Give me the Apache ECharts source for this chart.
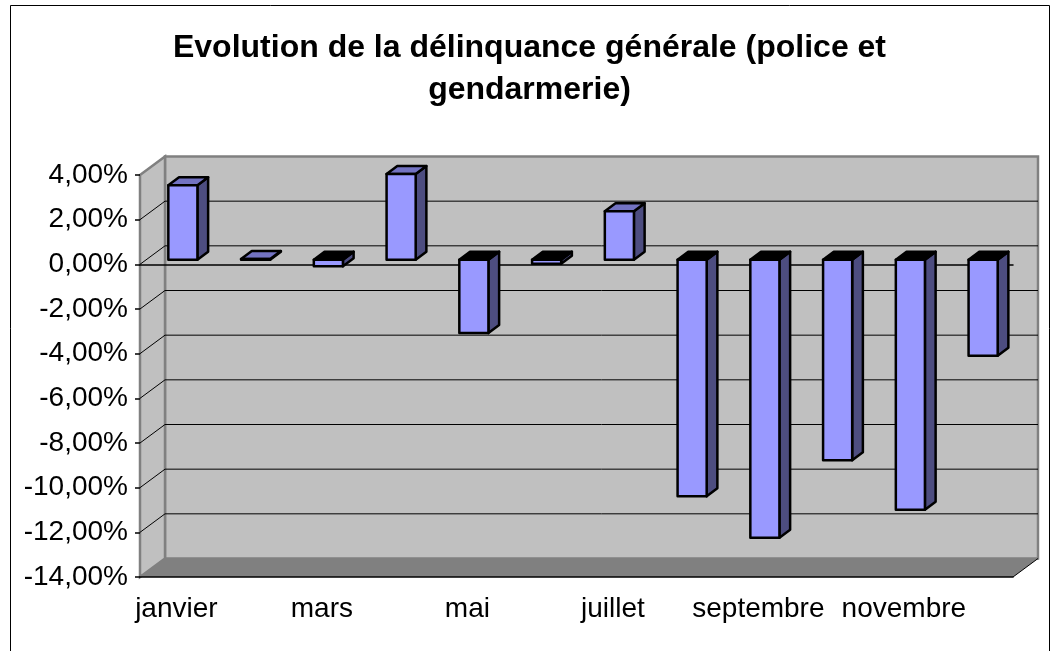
<!DOCTYPE html>
<html>
<head>
<meta charset="utf-8">
<script src="https://cdn.jsdelivr.net/npm/echarts@6/dist/echarts.min.js"></script>
<style>
  html, body { margin: 0; padding: 0; background: #fff; }
  #main { width: 1059px; height: 651px; }
</style>
</head>
<body>
<div id="main"></div>
<script>
// data (percent)
var months = ['janvier', 'février', 'mars', 'avril', 'mai', 'juin', 'juillet', 'août', 'septembre', 'octobre', 'novembre', 'décembre'];
var evolution = [3.33, 0.03, -0.3, 3.83, -3.29, -0.18, 2.17, -10.6, -12.45, -8.98, -11.2, -4.3];
var yTicks = [4, 2, 0, -2, -4, -6, -8, -10, -12, -14];

// 3d look (pixels)
var DEPTH_X = 25, DEPTH_Y = -18.5;   // front plane -> back wall
var FACE_X = 6.5, FACE_Y = -4.7;     // front plane -> bar front face
var BAR_DX = 10.7, BAR_DY = -8;      // bar depth
var BAR_W = 0.4;                     // share of a category
var FONT = "'Liberation Sans', Arial, sans-serif";

var chart = echarts.init(document.getElementById('main'));

function renderWalls(params, api) {
  var cs = params.coordSys;
  var l = cs.x, r = cs.x + cs.width, t = cs.y, b = cs.y + cs.height;
  var kids = [];
  // back wall
  kids.push({ type: 'rect', shape: { x: l + DEPTH_X, y: t + DEPTH_Y, width: cs.width, height: cs.height },
    style: { fill: '#C0C0C0', stroke: '#808080', lineWidth: 2.5 } });
  // left wall
  kids.push({ type: 'polygon', shape: { points: [[l, t], [l + DEPTH_X, t + DEPTH_Y], [l + DEPTH_X, b + DEPTH_Y], [l, b]] },
    style: { fill: '#C0C0C0', stroke: '#808080', lineWidth: 2.5 } });
  // floor
  kids.push({ type: 'polygon', shape: { points: [[l, b], [r, b], [r + DEPTH_X, b + DEPTH_Y], [l + DEPTH_X, b + DEPTH_Y]] },
    style: { fill: '#808080' } });
  kids.push({ type: 'line', shape: { x1: r, y1: b, x2: r + DEPTH_X, y2: b + DEPTH_Y },
    style: { stroke: '#000', lineWidth: 1 } });
  // gridlines on back and side walls
  yTicks.forEach(function (v, k) {
    if (k === 0 || k === yTicks.length - 1) return;
    var y = api.coord([0, v])[1];
    kids.push({ type: 'line', shape: { x1: l, y1: y, x2: l + DEPTH_X, y2: y + DEPTH_Y },
      style: { stroke: '#000', lineWidth: 1 } });
    kids.push({ type: 'line', shape: { x1: l + DEPTH_X, y1: y + DEPTH_Y, x2: r + DEPTH_X, y2: y + DEPTH_Y },
      style: { stroke: '#000', lineWidth: 1 } });
  });
  return { type: 'group', children: kids };
}

function renderBar(params, api) {
  var i = api.value(0), v = api.value(1);
  var base = api.coord([i, 0]);
  var tip = api.coord([i, v]);
  var w = api.size([1, 0])[0] * BAR_W;
  var x1 = base[0] - w / 2 + FACE_X, x2 = x1 + w;
  var yTop = Math.min(base[1], tip[1]) + FACE_Y;
  var yBot = Math.max(base[1], tip[1]) + FACE_Y;
  var edge = { stroke: '#000', lineWidth: 2.5, lineJoin: 'round' };
  return {
    type: 'group',
    children: [
      { type: 'polygon', shape: { points: [[x2, yTop], [x2 + BAR_DX, yTop + BAR_DY], [x2 + BAR_DX, yBot + BAR_DY], [x2, yBot]] },
        style: Object.assign({ fill: '#4D4D80' }, edge) },
      { type: 'polygon', shape: { points: [[x1, yTop], [x2, yTop], [x2 + BAR_DX, yTop + BAR_DY], [x1 + BAR_DX, yTop + BAR_DY]] },
        style: Object.assign({ fill: v < 0 ? '#000' : '#7373C2' }, edge) },
      { type: 'rect', shape: { x: x1, y: yTop, width: w, height: yBot - yTop },
        style: Object.assign({ fill: '#9999FF' }, edge) }
    ]
  };
}

var option = {
  animation: false,
  backgroundColor: '#fff',
  title: {
    text: 'Evolution de la délinquance générale (police et\ngendarmerie)',
    left: 'center',
    top: 22,
    textStyle: { fontFamily: FONT, fontSize: 32, fontWeight: 'bold', color: '#000', lineHeight: 42 }
  },
  graphic: [{
    type: 'rect', shape: { x: 10.5, y: 5.5, width: 1039, height: 660 },
    style: { fill: null, stroke: '#000', lineWidth: 1 }, z: 0
  }],
  grid: { left: 140, right: 46, top: 175, bottom: 74 },
  xAxis: [{
    type: 'category',
    data: months,
    position: 'bottom',
    z: 3,
    axisLine: { onZero: false, lineStyle: { color: '#000', width: 1.5 } },
    axisTick: { interval: 0, length: 6, lineStyle: { color: '#000', width: 1.5 } },
    axisLabel: { interval: 1, margin: 18, color: '#000', fontFamily: FONT, fontSize: 28 }
  }, {
    type: 'category',
    data: months,
    position: 'bottom',
    z: 3,
    axisLine: { onZero: true, lineStyle: { color: '#000', width: 1.5 } },
    axisTick: { interval: 0, length: 6, lineStyle: { color: '#000', width: 1.5 } },
    axisLabel: { show: false }
  }],
  yAxis: {
    type: 'value',
    min: -14,
    max: 4,
    interval: 2,
    z: 3,
    axisLine: { show: false },
    axisTick: { show: true, length: 5, lineStyle: { color: '#000', width: 1.5 } },
    splitLine: { show: false },
    axisLabel: {
      margin: 12, color: '#000', fontFamily: FONT, fontSize: 28,
      formatter: function (v) { return v.toFixed(2).replace('.', ',') + '%'; }
    }
  },
  series: [{
    type: 'custom',
    z: 1,
    silent: true,
    renderItem: renderWalls,
    data: [[0, 0]]
  }, {
    type: 'custom',
    z: 5,
    renderItem: renderBar,
    encode: { x: 0, y: 1 },
    data: evolution.map(function (v, i) { return [i, v]; })
  }]
};

chart.setOption(option);
</script>
</body>
</html>
